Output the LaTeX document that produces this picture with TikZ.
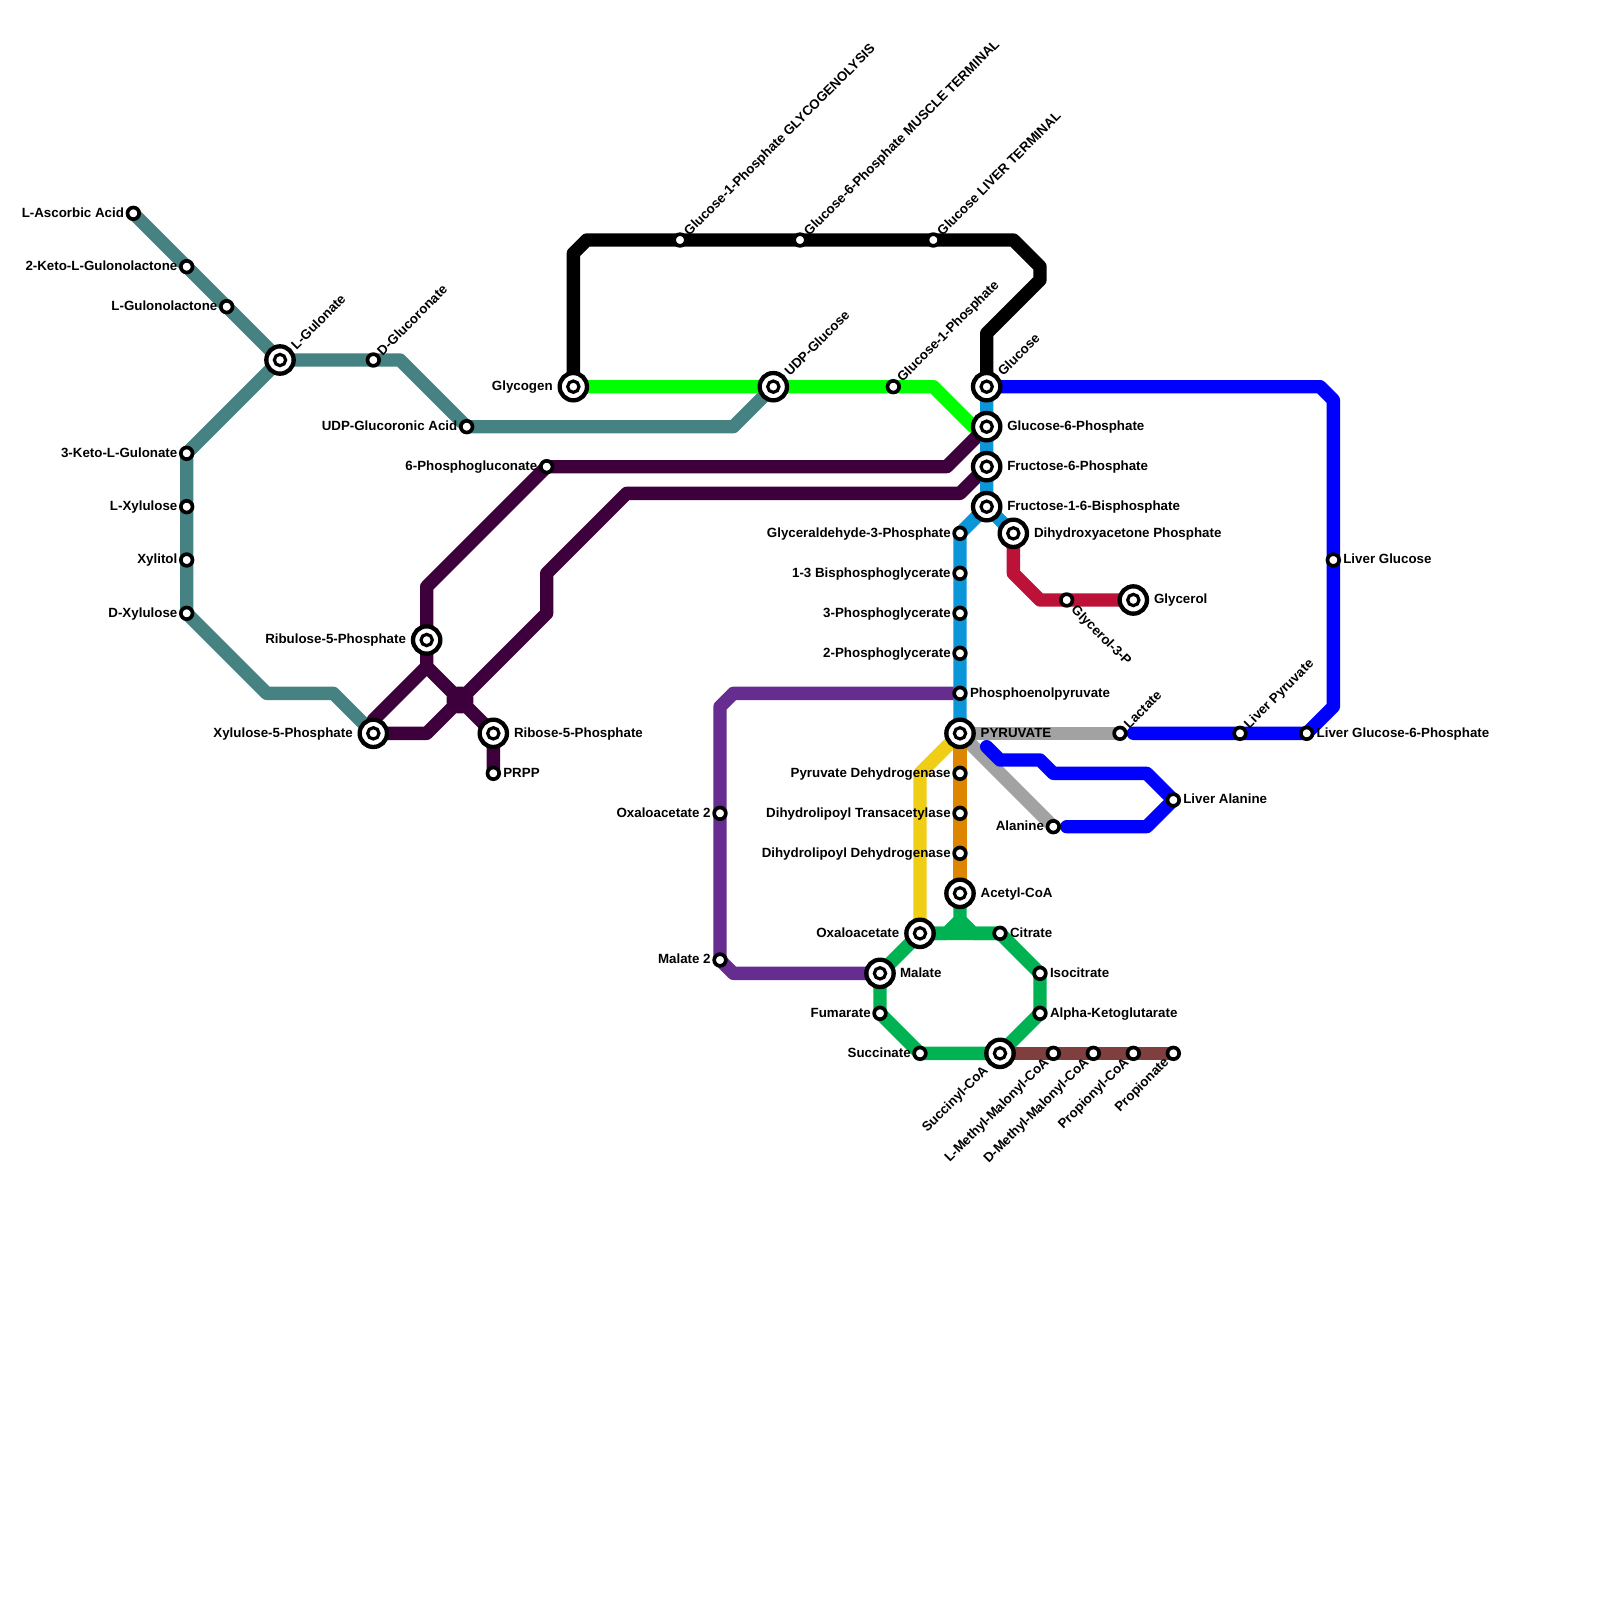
\documentclass[tikz,border=0pt]{standalone}
\usepackage{fontspec}
\setmainfont{Liberation Sans}
\usetikzlibrary{calc,backgrounds}
\tikzset{
  stn/.style={circle,draw=black,fill=white,line width=0.11cm,minimum size=0.35cm,inner sep=0pt,outer sep=0pt},
  hub/.style={circle,draw=black,fill=white,line width=0.13cm,minimum size=0.82cm,inner sep=0pt,outer sep=0pt,
    path picture={\draw[black,line width=0.095cm] (path picture bounding box.center) circle (0.17cm);}},
  txt/.style={font=\bfseries\fontsize{11.38pt}{12pt}\selectfont,text=black,inner sep=0pt,outer sep=0pt,text height=0.285cm,text depth=0pt},
  tr/.style={txt,anchor=west},
  tl/.style={txt,anchor=east},
  tne/.style={txt,anchor=west,rotate=45},
  tse/.style={txt,anchor=west,rotate=-45},
  tsw/.style={txt,anchor=east,rotate=45},
  ln/.style={line width=0.4cm,line join=round,line cap=round},
}
\definecolor{cteal}{HTML}{468282}
\definecolor{cplum}{HTML}{3D003D}
\definecolor{cgreen}{HTML}{00FF00}
\definecolor{cblue}{HTML}{0000FF}
\definecolor{ccyan}{HTML}{0A96D9}
\definecolor{cred}{HTML}{BC1238}
\definecolor{cviolet}{HTML}{662C90}
\definecolor{cyellow}{HTML}{F0CE15}
\definecolor{corange}{HTML}{DF8600}
\definecolor{cmint}{HTML}{00B251}
\definecolor{cbrown}{HTML}{7F3F3F}
\definecolor{cgray}{HTML}{A2A2A2}
\newcommand{\Sn}[6]{%
  \node[stn] (#1) at (#2,#3) {};
  \node[#4] (#1-t) at ($(#1.center)+(#5)$) {#6};}
\newcommand{\Hb}[6]{%
  \node[hub] (#1) at (#2,#3) {};
  \node[#4] (#1-t) at ($(#1.center)+(#5)$) {#6};}
\begin{document}
\begin{tikzpicture}[x=0.4cm,y=-0.4cm]
\useasboundingbox (0,0) rectangle (120,120);
% stations: teal
\Sn{asc}{10}{16}{tl}{-0.7,-0.08}{L-Ascorbic Acid}
\Sn{kgl}{14}{20}{tl}{-0.7,-0.08}{2-Keto-L-Gulonolactone}
\Sn{glo}{17}{23}{tl}{-0.7,-0.08}{L-Gulonolactone}
\Hb{gul}{21}{27}{tne}{1.0,-1.0}{L-Gulonate}
\Sn{dgl}{28}{27}{tne}{0.45,-0.55}{D-Glucoronate}
\Sn{uda}{35}{32}{tl}{-0.7,-0.08}{UDP-Glucoronic Acid}
\Sn{ket}{14}{34}{tl}{-0.7,-0.08}{3-Keto-L-Gulonate}
\Sn{lxy}{14}{38}{tl}{-0.7,-0.08}{L-Xylulose}
\Sn{xyl}{14}{42}{tl}{-0.7,-0.08}{Xylitol}
\Sn{dxy}{14}{46}{tl}{-0.7,-0.08}{D-Xylulose}
% pentose
\Hb{x5p}{28}{55}{tl}{-1.55,-0.08}{Xylulose-5-Phosphate}
\Hb{ru5}{32}{48}{tl}{-1.55,-0.08}{Ribulose-5-Phosphate}
\Sn{pgl}{41}{35}{tl}{-0.7,-0.08}{6-Phosphogluconate}
\Hb{r5p}{37}{55}{tr}{1.55,-0.08}{Ribose-5-Phosphate}
\Sn{prp}{37}{58}{tr}{0.75,-0.08}{PRPP}
% glycogen
\Hb{gly}{43}{29}{tl}{-1.55,-0.08}{Glycogen}
\Hb{udg}{58}{29}{tne}{1.0,-1.0}{UDP-Glucose}
\Sn{g1p}{67}{29}{tne}{0.45,-0.55}{Glucose-1-Phosphate}
\Sn{g1t}{51}{18}{tne}{0.45,-0.55}{Glucose-1-Phosphate GLYCOGENOLYSIS}
\Sn{g6t}{60}{18}{tne}{0.45,-0.55}{Glucose-6-Phosphate MUSCLE TERMINAL}
\Sn{glt}{70}{18}{tne}{0.45,-0.55}{Glucose LIVER TERMINAL}
% glycolysis
\Hb{glc}{74}{29}{tne}{1.0,-1.0}{Glucose}
\Hb{g6p}{74}{32}{tr}{1.55,-0.08}{Glucose-6-Phosphate}
\Hb{f6p}{74}{35}{tr}{1.55,-0.08}{Fructose-6-Phosphate}
\Hb{fbp}{74}{38}{tr}{1.55,-0.08}{Fructose-1-6-Bisphosphate}
\Hb{dha}{76}{40}{tr}{1.55,-0.08}{Dihydroxyacetone Phosphate}
\Sn{gap}{72}{40}{tl}{-0.7,-0.08}{Glyceraldehyde-3-Phosphate}
\Sn{bpg}{72}{43}{tl}{-0.7,-0.08}{1-3 Bisphosphoglycerate}
\Sn{pg3}{72}{46}{tl}{-0.7,-0.08}{3-Phosphoglycerate}
\Sn{pg2}{72}{49}{tl}{-0.7,-0.08}{2-Phosphoglycerate}
\Sn{pep}{72}{52}{tr}{0.75,-0.08}{Phosphoenolpyruvate}
\Hb{pyr}{72}{55}{tr}{1.55,-0.08}{PYRUVATE}
\Sn{g3p}{80}{45}{tse}{0.55,0.55}{Glycerol-3-P}
\Hb{gol}{85}{45}{tr}{1.55,-0.08}{Glycerol}
% liver
\Sn{lgl}{100}{42}{tr}{0.75,-0.08}{Liver Glucose}
\Sn{lg6}{98}{55}{tr}{0.75,-0.08}{Liver Glucose-6-Phosphate}
\Sn{lpy}{93}{55}{tne}{0.45,-0.55}{Liver Pyruvate}
\Sn{lac}{84}{55}{tne}{0.45,-0.55}{Lactate}
\Sn{ala}{79}{62}{tl}{-0.7,-0.08}{Alanine}
\Sn{lal}{88}{60}{tr}{0.75,-0.08}{Liver Alanine}
% pdh
\Sn{pdh}{72}{58}{tl}{-0.7,-0.08}{Pyruvate Dehydrogenase}
\Sn{dlt}{72}{61}{tl}{-0.7,-0.08}{Dihydrolipoyl Transacetylase}
\Sn{dld}{72}{64}{tl}{-0.7,-0.08}{Dihydrolipoyl Dehydrogenase}
\Hb{aco}{72}{67}{tr}{1.55,-0.08}{Acetyl-CoA}
% tca
\Hb{oaa}{69}{70}{tl}{-1.55,-0.08}{Oxaloacetate}
\Sn{cit}{75}{70}{tr}{0.75,-0.08}{Citrate}
\Sn{ict}{78}{73}{tr}{0.75,-0.08}{Isocitrate}
\Sn{akg}{78}{76}{tr}{0.75,-0.08}{Alpha-Ketoglutarate}
\Hb{sca}{75}{79}{tsw}{-1.1,1.1}{Succinyl-CoA}
\Sn{suc}{69}{79}{tl}{-0.7,-0.08}{Succinate}
\Sn{fum}{66}{76}{tl}{-0.7,-0.08}{Fumarate}
\Hb{mal}{66}{73}{tr}{1.5,-0.08}{Malate}
\Sn{oa2}{54}{61}{tl}{-0.7,-0.08}{Oxaloacetate 2}
\Sn{ma2}{54}{72}{tl}{-0.7,-0.08}{Malate 2}
% propionate
\Sn{lmm}{79}{79}{tsw}{-0.55,0.5}{L-Methyl-Malonyl-CoA}
\Sn{dmm}{82}{79}{tsw}{-0.55,0.5}{D-Methyl-Malonyl-CoA}
\Sn{ppc}{85}{79}{tsw}{-0.55,0.5}{Propionyl-CoA}
\Sn{ppn}{88}{79}{tsw}{-0.55,0.5}{Propionate}
% bends
\coordinate (t1) at (30,27); \coordinate (t2) at (55,32);
\coordinate (t3) at (20,52); \coordinate (t4) at (25,52);
\coordinate (p1) at (32,44); \coordinate (p2) at (71,35);
\coordinate (p4) at (72,37);
\coordinate (p5) at (47,37); \coordinate (p6) at (41,43);
\coordinate (p7) at (41,46); \coordinate (p8) at (32,55);
\coordinate (p9) at (32,50); \coordinate (p10) at (28,54);
\coordinate (blob) at (34.5,52.5);
\coordinate (k1) at (43,19); \coordinate (k2) at (44,18);
\coordinate (k3) at (76,18); \coordinate (k4) at (78,20);
\coordinate (k5) at (78,21); \coordinate (k6) at (74,25);
\coordinate (g1) at (70,29); \coordinate (g2) at (73,32);
\coordinate (b1) at (99,29); \coordinate (b2) at (100,30);
\coordinate (b3) at (100,53); \coordinate (b4) at (85,55);
\coordinate (a1) at (74,56); \coordinate (a2) at (75,57);
\coordinate (a3) at (78,57); \coordinate (a4) at (79,58);
\coordinate (a5) at (86,58); \coordinate (a6) at (86,62);
\coordinate (a7) at (80,62);
\coordinate (r1) at (76,43); \coordinate (r2) at (78,45);
\coordinate (v1) at (55,52); \coordinate (v2) at (54,53);
\coordinate (v3) at (55,73); \coordinate (y1) at (69,58);
\coordinate (m1) at (72,69); \coordinate (m2) at (71,70);
\coordinate (m3) at (73,70);
\begin{scope}[on background layer]
\draw[ln,cteal] (asc.center)--(kgl.center)--(glo.center)--(gul.center)--(dgl.center)--(t1)--(uda.center)--(t2)--(udg.center);
\draw[ln,cteal] (gul.center)--(ket.center)--(lxy.center)--(xyl.center)--(dxy.center)--(t3)--(t4)--(x5p.center);
\draw[ln,cviolet] (pep.center)--(v1)--(v2)--(oa2.center)--(ma2.center)--(v3)--(mal.center);
\draw[ln,cgreen] (gly.center)--(udg.center)--(g1p.center)--(g1)--(g2)--(g6p.center);
\draw[ln,cplum] (g6p.center)--(p2)--(pgl.center)--(p1)--(ru5.center)--(p9)--(p10)--(x5p.center)--(p8)--(p7)--(p6)--(p5)--(p4)--(f6p.center);
\draw[ln,cplum] (p9)--(r5p.center)--(prp.center);
\fill[cplum] ($(blob)+(-0.25,-1)$)--($(blob)+(0.25,-1)$)--($(blob)+(1,-0.25)$)--($(blob)+(1,0.25)$)--($(blob)+(0.25,1)$)--($(blob)+(-0.25,1)$)--($(blob)+(-1,0.25)$)--($(blob)+(-1,-0.25)$)--cycle;
\draw[ln,black] (gly.center)--(k1)--(k2)--(g1t.center)--(g6t.center)--(glt.center)--(k3)--(k4)--(k5)--(k6)--(glc.center);
\draw[ln,cgray] (pyr.center)--(lac.center);
\draw[ln,cgray] (pyr.center)--(ala.center);
\draw[ln,cyellow] (pyr.center)--(y1)--(oaa.center);
\draw[ln,corange] (pyr.center)--(pdh.center)--(dlt.center)--(dld.center)--(aco.center);
\draw[ln,ccyan] (glc.center)--(g6p.center)--(f6p.center)--(fbp.center)--(gap.center)--(bpg.center)--(pg3.center)--(pg2.center)--(pep.center)--(pyr.center);
\draw[ln,ccyan] (fbp.center)--(dha.center);
\draw[ln,cred] (dha.center)--(r1)--(r2)--(g3p.center)--(gol.center);
\draw[ln,cblue] (glc.center)--(b1)--(b2)--(lgl.center)--(b3)--(lg6.center)--(lpy.center)--(b4);
\draw[ln,cblue] (a1)--(a2)--(a3)--(a4)--(a5)--(lal.center)--(a6)--(a7);
\draw[ln,cbrown] (sca.center)--(lmm.center)--(dmm.center)--(ppc.center)--(ppn.center);
\draw[ln,cmint] (aco.center)--(m1)--(m2)--(oaa.center);
\draw[ln,cmint] (m1)--(m3)--(cit.center);
\draw[ln,cmint] (oaa.center)--(cit.center)--(ict.center)--(akg.center)--(sca.center)--(suc.center)--(fum.center)--(mal.center)--(oaa.center);
\end{scope}
\end{tikzpicture}
\end{document}
